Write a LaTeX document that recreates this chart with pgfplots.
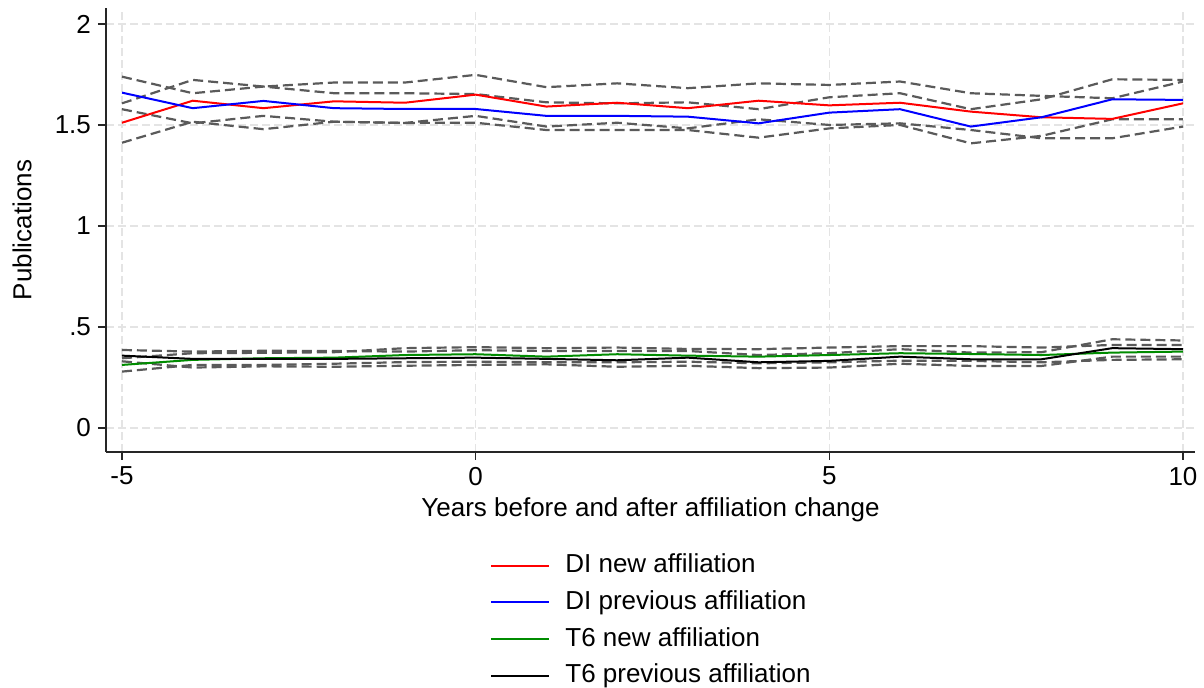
\documentclass[border=0pt]{standalone}
\usepackage{fontspec}
\setmainfont{Liberation Sans}
\usepackage{pgfplots}
\usepackage{pgfplotstable}
\pgfplotsset{compat=1.18}
\definecolor{cig}{RGB}{90,90,90}
\definecolor{grd}{RGB}{228,228,228}
\definecolor{tgreen}{RGB}{0,140,0}

\pgfplotstableread{
x dn dnhi dnlo dp dphi dplo
-5 1.511 1.607 1.412 1.660 1.739 1.578
-4 1.620 1.723 1.516 1.583 1.657 1.508
-3 1.583 1.690 1.479 1.619 1.690 1.545
-2 1.617 1.710 1.516 1.583 1.657 1.516
-1 1.610 1.710 1.510 1.579 1.657 1.510
0 1.650 1.748 1.545 1.579 1.653 1.511
1 1.591 1.687 1.492 1.545 1.612 1.475
2 1.610 1.706 1.511 1.545 1.607 1.475
3 1.583 1.682 1.483 1.541 1.612 1.475
4 1.620 1.706 1.528 1.508 1.578 1.437
5 1.597 1.698 1.500 1.561 1.637 1.483
6 1.610 1.715 1.508 1.578 1.657 1.500
7 1.566 1.657 1.475 1.492 1.578 1.409
8 1.538 1.644 1.434 1.538 1.627 1.446
9 1.530 1.632 1.434 1.627 1.726 1.528
10 1.607 1.715 1.492 1.624 1.723 1.528
}\didata

\pgfplotstableread{
x tn tnhi tnlo tp tphi tplo
-5 0.312 0.345 0.279 0.358 0.386 0.330
-4 0.337 0.370 0.312 0.342 0.378 0.299
-3 0.345 0.372 0.312 0.342 0.382 0.305
-2 0.348 0.375 0.318 0.342 0.381 0.303
-1 0.361 0.395 0.326 0.345 0.378 0.308
0 0.365 0.400 0.328 0.348 0.385 0.312
1 0.353 0.395 0.325 0.342 0.381 0.315
2 0.365 0.398 0.325 0.335 0.381 0.303
3 0.358 0.391 0.328 0.348 0.381 0.308
4 0.353 0.390 0.320 0.325 0.361 0.296
5 0.361 0.398 0.325 0.332 0.370 0.299
6 0.370 0.405 0.333 0.353 0.390 0.318
7 0.366 0.405 0.332 0.340 0.373 0.307
8 0.361 0.398 0.325 0.340 0.375 0.307
9 0.373 0.411 0.337 0.395 0.439 0.353
10 0.378 0.411 0.340 0.390 0.433 0.353
}\tsdata

\begin{document}
\begin{tikzpicture}
\useasboundingbox (0,0) rectangle (602pt,344pt);
\begin{axis}[
  at={(53pt,118pt)}, anchor=south west,
  scale only axis, width=544.5pt, height=222pt,
  xmin=-5.226, xmax=10.17, ymin=-0.119, ymax=2.079,
  axis lines*=left,
  axis line style={black!85, line width=0.6pt},
  xtick={-5,0,5,10}, xticklabels={-5,0,5,10},
  ytick={0,0.5,1,1.5,2}, yticklabels={0,.5,1,1.5,2},
  tick align=outside, major tick length=4pt,
  tick style={black!85, line width=0.6pt},
  grid=major, grid style={grd, dash pattern=on 4pt off 2pt, line width=0.7pt},
  font=\fontsize{13}{15.6}\selectfont,
  ticklabel style={font=\fontsize{13}{15.6}\selectfont},
  /pgf/number format/assume math mode=true,
  xlabel={Years before and after affiliation change},
  ylabel={Publications},
  every axis x label/.style={at={(axis description cs:0.5,-0.1306)}, anchor=center},
  every axis y label/.style={at={(axis description cs:-0.0771,0.5)}, anchor=center, rotate=90},
  legend style={at={(axis description cs:0.3526,-0.2266)}, anchor=north west,
    draw=none, fill=none, inner sep=0pt, row sep=5.25pt,
    font=\fontsize{13}{15.6}\selectfont,
    nodes={inner sep=0pt, text height=10pt, text depth=3pt},
    /tikz/every odd column/.append style={column sep=7.5pt}},
  legend cell align=left,
  legend image code/.code={\draw[#1] (0pt,0pt) -- (29pt,0pt);},
  cil/.style={cig, line width=1.1pt, dash pattern=on 5pt off 2.5pt, forget plot},
]
\addplot[cil] table[x=x,y=dnhi] {\didata};
\addplot[cil] table[x=x,y=dnlo] {\didata};
\addplot[cil] table[x=x,y=dphi] {\didata};
\addplot[cil] table[x=x,y=dplo] {\didata};
\addplot[cil] table[x=x,y=tnhi] {\tsdata};
\addplot[cil] table[x=x,y=tnlo] {\tsdata};
\addplot[cil] table[x=x,y=tphi] {\tsdata};
\addplot[cil] table[x=x,y=tplo] {\tsdata};
\addplot[red, line width=1pt] table[x=x,y=dn] {\didata};
\addlegendentry{DI new affiliation}
\addplot[blue, line width=1pt] table[x=x,y=dp] {\didata};
\addlegendentry{DI previous affiliation}
\addplot[tgreen, line width=1pt] table[x=x,y=tn] {\tsdata};
\addlegendentry{T6 new affiliation}
\addplot[black, line width=1pt] table[x=x,y=tp] {\tsdata};
\addlegendentry{T6 previous affiliation}
\end{axis}
\end{tikzpicture}
\end{document}
